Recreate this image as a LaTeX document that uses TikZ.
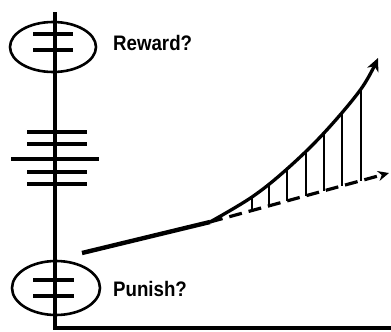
\documentclass[tikz,border=0pt]{standalone}
\usepackage{fontspec}
\setmainfont{Liberation Sans}
\usetikzlibrary{arrows.meta}
\begin{document}
\begin{tikzpicture}[x=1pt,y=-1pt,
  axis/.style={line width=3.2pt},
  tick/.style={line width=3.2pt},
  lbl/.style={font=\bfseries\fontsize{21}{23}\selectfont,inner sep=0pt,anchor=base west,xscale=0.89},
  hatch/.style={line width=2.3pt},
  growth/.style={line width=3.3pt,-{Stealth[length=13pt,width=12pt,inset=4pt]}},
  base/.style={line width=3.2pt,dash pattern=on 13pt off 7pt,-{Stealth[length=11pt,width=10pt,inset=3.5pt]}}]
\useasboundingbox (0,0) rectangle (391,332);
% axes
\coordinate (top) at (55,12);
\coordinate (origin) at (55,328);
\coordinate (xend) at (391,328);
\draw[axis] (top) -- (origin) -- (xend);
% top ellipse
\draw[line width=2.6pt] (53,47) ellipse [x radius=43, y radius=25];
\draw[tick] (33,34) -- (73,34);
\draw[tick] (33,50) -- (73,50);
\node[lbl] (reward) at (113,50) {Reward?};
% middle ticks
\draw[tick] (27,132) -- (87,132);
\draw[tick] (27,144) -- (87,144);
\draw[tick] (11,159) -- (99,159);
\draw[tick] (27,172) -- (87,172);
\draw[tick] (27,184) -- (87,184);
% bottom ellipse
\draw[line width=2.6pt] (56,288) ellipse [x radius=44, y radius=27];
\draw[tick] (33,280) -- (74,280);
\draw[tick] (33,296) -- (74,296);
\node[lbl] (punish) at (113,296) {Punish?};
% lines
\coordinate (start) at (82,253);
\coordinate (kink) at (210,222);
\coordinate (gend) at (378,58);
\coordinate (bend) at (389,173);
\draw[line width=4.4pt] (start) -- (kink);
\draw[base] (kink) -- (bend);
\draw[growth] plot[smooth,tension=0.6] coordinates {(210,222) (252,197) (287,169) (324,133) (361,89) (378,58)};
% hatch lines
\foreach \x/\y in {252/197, 269/185, 287/168, 306/151, 324/132, 342/111, 361/88}{
  \pgfmathsetmacro{\yb}{222-(\x-210)*49/179}
  \draw[hatch] (\x,\y) -- (\x,\yb);
}
\end{tikzpicture}
\end{document}
